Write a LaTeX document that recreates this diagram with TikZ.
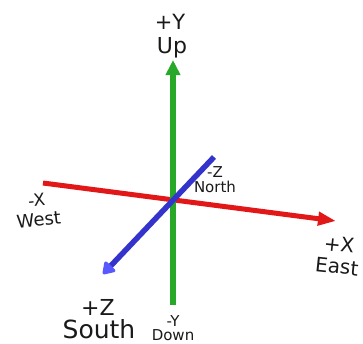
\documentclass[tikz,border=0pt]{standalone}
\usepackage{fontspec}
\setmainfont{DejaVu Sans}
\usetikzlibrary{arrows.meta}
\definecolor{axred}{RGB}{226,24,24}
\definecolor{axgreen}{RGB}{40,168,40}
\definecolor{axblue}{RGB}{52,52,205}
\definecolor{axbluehead}{RGB}{88,88,255}
\definecolor{lbltext}{RGB}{25,25,25}
\begin{document}
\begin{tikzpicture}[x=1pt,y=-1pt,
  lbl/.style={inner sep=0pt, anchor=base, text=lbltext},
  pair/.style={inner sep=0pt, anchor=north, align=center, text=lbltext},
  xaxis/.style={draw=axred, line width=5pt, -{Triangle[length=18pt,width=13pt]}},
  yaxis/.style={draw=axgreen, line width=5.5pt, -{Triangle[length=15pt,width=14pt]}},
  zaxis/.style={draw=axblue, line width=5.5pt, -{Triangle[length=13pt,width=16pt,round,fill=axbluehead,color=axbluehead]}}]
\useasboundingbox (0,0) rectangle (363,343);
\coordinate (xneg) at (43,183);
\coordinate (xpos) at (336,221);
\coordinate (yneg) at (173,305);
\coordinate (ypos) at (173,60);
\coordinate (zneg) at (214,157);
\coordinate (zpos) at (103,274);
\draw[xaxis] (xneg) -- (xpos);
\draw[yaxis] (yneg) -- (ypos);
\draw[zaxis] (zneg) -- (zpos);
% labels
\node[lbl, font=\fontsize{21}{21}\selectfont] (plusy) at (170,29) {+Y};
\node[lbl, font=\fontsize{22}{22}\selectfont] (up) at (172,53) {Up};
\node[pair, font=\fontsize{15}{15}\selectfont] (zneglbl) at (215,166) {-Z\\North};
\node[pair, font=\fontsize{17}{20}\selectfont, rotate=6] (xneglbl) at (36,194) {-X\\{\fontsize{18}{20}\selectfont West}};
\node[pair, font=\fontsize{20}{22}\selectfont, rotate=-6] (xposlbl) at (340,237) {+X\\East};
\node[lbl, font=\fontsize{22}{22}\selectfont] (plusz) at (98,315) {+Z};
\node[lbl, font=\fontsize{25}{25}\selectfont] (south) at (99,338) {South};
\node[pair, font=\fontsize{15}{14}\selectfont] (yneglbl) at (173,315) {-Y\\Down};
\end{tikzpicture}
\end{document}
